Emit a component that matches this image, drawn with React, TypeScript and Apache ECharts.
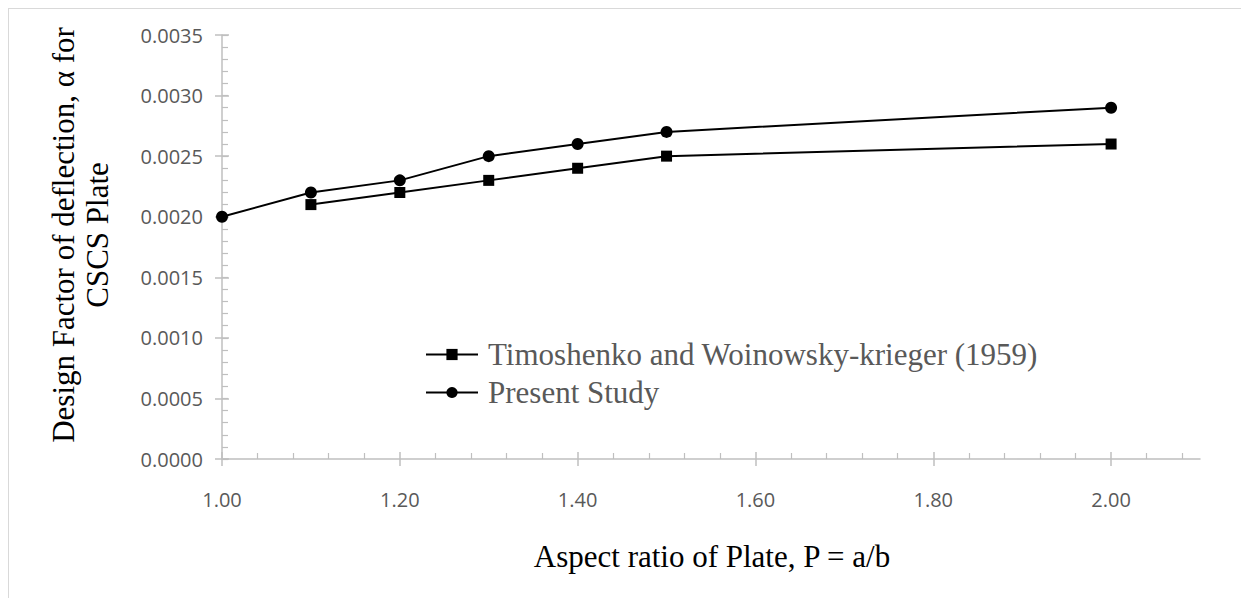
import React, { useEffect, useRef } from "react";
import * as echarts from "echarts";

const xValues = [1.0, 1.1, 1.2, 1.3, 1.4, 1.5, 2.0];
const timoshenko: (number | null)[] = [null, 0.0021, 0.0022, 0.0023, 0.0024, 0.0025, 0.0026];
const presentStudy = [0.002, 0.0022, 0.0023, 0.0025, 0.0026, 0.0027, 0.0029];
const seriesNames = ["Timoshenko and Woinowsky-krieger (1959)", "Present Study"];
const xMajorTicks = [1.0, 1.2, 1.4, 1.6, 1.8, 2.0];
const xMinorTicks = [
  1.04, 1.08, 1.12, 1.16, 1.24, 1.28, 1.32, 1.36, 1.44, 1.48, 1.52, 1.56,
  1.64, 1.68, 1.72, 1.76, 1.84, 1.88, 1.92, 1.96, 2.04, 2.08,
];
const xAxisTitle = "Aspect ratio of Plate, P = a/b";
const yAxisTitle = "Design Factor of deflection, \u03b1 for\nCSCS Plate";

const AXIS_COLOR = "#BFBFBF";
const LABEL_COLOR = "#595959";

export default function App() {
  const ref = useRef<HTMLDivElement>(null);
  useEffect(() => {
    if (!ref.current) return;
    const chart = echarts.init(ref.current, null, { renderer: "svg" });
    const grid = { left: 213, top: 26, right: 49, bottom: 139 };
    const xBase = { type: "value", min: 1.0, max: 2.1, interval: 0.2, gridIndex: 0, position: "bottom", splitLine: { show: false } };
    const yBase = { type: "value", min: 0, max: 0.0035, interval: 0.0005, gridIndex: 0, position: "left", splitLine: { show: false } };
    chart.setOption({
      animation: false,
      backgroundColor: "#ffffff",
      grid,
      legend: {
        data: seriesNames,
        orient: "vertical",
        left: 416,
        top: 330,
        padding: 0,
        itemWidth: 52,
        itemHeight: 14,
        itemGap: 7,
        textStyle: { fontFamily: "Liberation Serif", fontSize: 31, color: LABEL_COLOR, padding: [0, 0, 0, 5] },
      },
      xAxis: [
        {
          ...xBase,
          axisLine: { show: true, lineStyle: { color: AXIS_COLOR, width: 1.5 } },
          axisTick: { show: true, length: 7, lineStyle: { color: AXIS_COLOR, width: 1.5 }, customValues: xMajorTicks },
          axisLabel: {
            customValues: xMajorTicks,
            formatter: (v: number) => v.toFixed(2),
            color: LABEL_COLOR,
            fontFamily: "Open Sans",
            fontSize: 20,
            margin: 30,
          },
        },
        {
          ...xBase,
          axisLine: { show: false },
          axisTick: { show: true, inside: true, length: 7, lineStyle: { color: AXIS_COLOR, width: 1.5 }, customValues: xMajorTicks },
          axisLabel: { show: false },
        },
        {
          ...xBase,
          axisLine: { show: false },
          axisTick: { show: true, inside: true, length: 6, lineStyle: { color: AXIS_COLOR, width: 1.2 }, customValues: xMinorTicks },
          axisLabel: { show: false },
        },
      ],
      yAxis: [
        {
          ...yBase,
          axisLine: { show: true, lineStyle: { color: AXIS_COLOR, width: 1.5 } },
          axisTick: { show: true, length: 7, lineStyle: { color: AXIS_COLOR, width: 1.5 } },
          axisLabel: {
            formatter: (v: number) => v.toFixed(4),
            color: LABEL_COLOR,
            fontFamily: "Open Sans",
            fontSize: 20,
            margin: 19,
          },
        },
        {
          ...yBase,
          axisLine: { show: false },
          axisTick: { show: true, inside: true, length: 7, lineStyle: { color: AXIS_COLOR, width: 1.5 } },
          axisLabel: { show: false },
        },
        {
          ...yBase,
          interval: 0.0001,
          axisLine: { show: false },
          axisTick: { show: true, inside: true, length: 6, lineStyle: { color: AXIS_COLOR, width: 1.2 } },
          axisLabel: { show: false },
        },
      ],
      series: [
        {
          name: seriesNames[0],
          type: "line",
          xAxisIndex: 0,
          yAxisIndex: 0,
          data: xValues.map((x, i) => [x, timoshenko[i]]).filter((d) => d[1] !== null),
          symbol: "rect",
          symbolSize: 11,
          itemStyle: { color: "#000000" },
          lineStyle: { color: "#000000", width: 2 },
          z: 3,
        },
        {
          name: seriesNames[1],
          type: "line",
          xAxisIndex: 0,
          yAxisIndex: 0,
          data: xValues.map((x, i) => [x, presentStudy[i]]),
          symbol: "circle",
          symbolSize: 12,
          itemStyle: { color: "#000000" },
          lineStyle: { color: "#000000", width: 2 },
          z: 4,
        },
      ],
      graphic: [
        {
          type: "text",
          x: 703,
          y: 547,
          style: {
            text: xAxisTitle,
            fontFamily: "Liberation Serif",
            fontSize: 31,
            fill: "#000000",
            textAlign: "center",
            textVerticalAlign: "middle",
          },
        },
        {
          type: "text",
          x: 71,
          y: 226,
          rotation: Math.PI / 2,
          style: {
            text: yAxisTitle,
            fontFamily: "Liberation Serif",
            fontSize: 31,
            lineHeight: 34,
            fill: "#000000",
            textAlign: "center",
            textVerticalAlign: "middle",
          },
        },
      ],
    });
    return () => chart.dispose();
  }, []);
  return (
    <div
      ref={ref}
      style={{ width: 1240, height: 589, borderTop: "1px solid #D9D9D9", borderLeft: "1px solid #D9D9D9" }}
    />
  );
}
